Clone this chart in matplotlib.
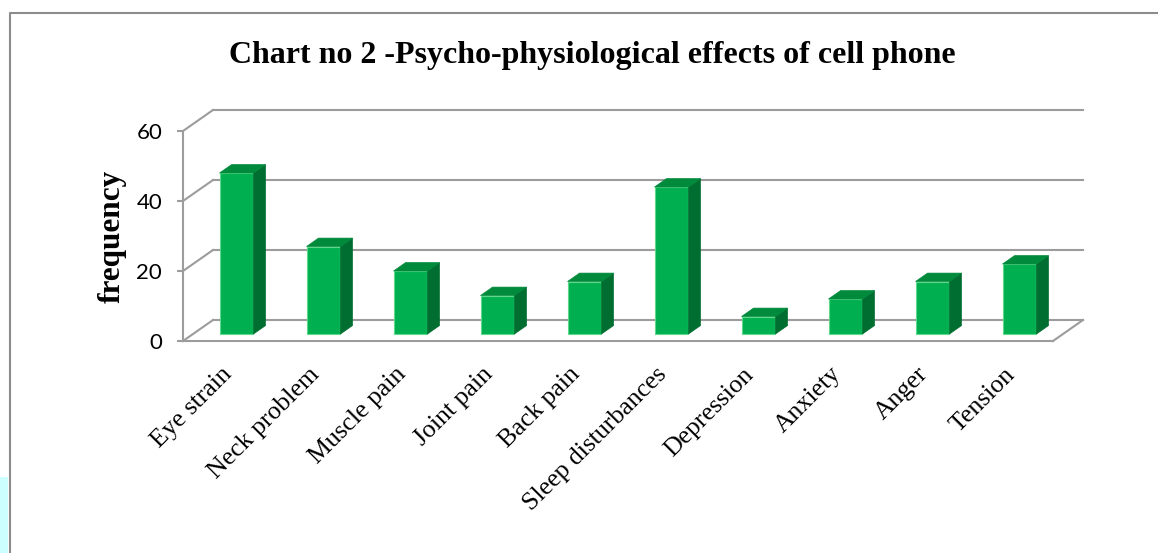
import matplotlib
matplotlib.use("Agg")
import matplotlib.pyplot as plt
from matplotlib.patches import Polygon, Rectangle
from matplotlib.lines import Line2D

categories = ["Eye strain", "Neck problem", "Muscle pain", "Joint pain", "Back pain",
              "Sleep disturbances", "Depression", "Anxiety", "Anger", "Tension"]
values = [46, 25, 18, 11, 15, 42, 5, 10, 15, 20]
yticks = [0, 20, 40, 60]
title = "Chart no 2 -Psycho-physiological effects of cell phone"
ylabel = "frequency"

W, H = 1158, 553
fig = plt.figure(figsize=(W / 100, H / 100), dpi=100)
fig.patch.set_facecolor("white")

# axes placement (pixels -> fractions)
left_px, right_px = 183, 183 + 10.4 * 87
bottom_px, top_px = 341, 341 - 67 * 3.5
ax = fig.add_axes([left_px / W, 1 - bottom_px / H, (right_px - left_px) / W, (bottom_px - top_px) / H])
ax.set_xlim(-0.5, 9.9)
ax.set_ylim(0, 67)
ax.set_facecolor("none")

grid_c = "#9C9C9C"
DX, DY = 0.345, 6.0          # depth of the 3D box in data units
n = len(categories)
x0, x1 = -0.5, n - 0.5

# walls / gridlines
for v in yticks:
    ax.plot([x0, x0 + DX], [v, v + DY], color=grid_c, lw=1.5, clip_on=False, zorder=1)
    ax.plot([x0 + DX, x1 + DX], [v + DY, v + DY], color=grid_c, lw=1.5, clip_on=False, zorder=1)
ax.plot([x0, x1], [0, 0], color=grid_c, lw=1.5, clip_on=False, zorder=1)
ax.plot([x1, x1 + DX], [0, DY], color=grid_c, lw=1.5, clip_on=False, zorder=1)

# bars (oblique 3D look)
front_c, side_c, top_c = "#00B050", "#006E30", "#008A3C"
bw = 0.39
shift_x, base = DX / 3, DY / 3
bdx, bdy = 0.138, 2.4
xs = [i + shift_x for i in range(n)]
ax.bar(xs, values, width=bw, bottom=base, color=front_c, edgecolor="#5ED98A", linewidth=0.8, zorder=3)
for xc, v in zip(xs, values):
    xl, xr = xc - bw / 2, xc + bw / 2
    yb, yt = base, base + v
    ax.add_patch(Polygon([(xr, yb), (xr + bdx, yb + bdy), (xr + bdx, yt + bdy), (xr, yt)],
                         closed=True, facecolor=side_c, edgecolor=side_c, lw=0.5, zorder=3))
    ax.add_patch(Polygon([(xl, yt), (xr, yt), (xr + bdx, yt + bdy), (xl + bdx, yt + bdy)],
                         closed=True, facecolor=top_c, edgecolor=top_c, lw=0.5, zorder=3))

# axes styling
for s in ["top", "right", "bottom"]:
    ax.spines[s].set_visible(False)
ax.spines["left"].set_color(grid_c)
ax.spines["left"].set_linewidth(1.5)
ax.spines["left"].set_bounds(0, 60)

ax.set_yticks(yticks)
ax.set_yticklabels([str(t) for t in yticks], fontfamily="Lato", fontsize=16)
ax.tick_params(axis="y", direction="out", length=4, width=1.5, color=grid_c, pad=11)

ax.set_xticks(xs)
ax.set_xticklabels(categories, rotation=45, ha="right", fontfamily="Liberation Serif", fontsize=18.5)
ax.tick_params(axis="x", length=0, pad=16)

ax.set_ylabel(ylabel, fontfamily="Liberation Serif", fontweight="bold", fontsize=22.5)
ax.yaxis.set_label_coords(-0.062, 0.4456)

fig.text(592 / W, 1 - 63 / H, title, ha="center", va="baseline",
         fontfamily="Liberation Serif", fontweight="bold", fontsize=23)

# outer frame and page artifact
fig.add_artist(Line2D([10 / W, 10 / W, 1.0], [0.0, 1 - 13 / H, 1 - 13 / H],
                      color="#8C8C8C", lw=1.5, transform=fig.transFigure))
fig.add_artist(Rectangle((0, 0), 8 / W, (H - 477) / H, transform=fig.transFigure,
                         facecolor="#CCFFFF", edgecolor="none"))

fig.savefig("out.png", dpi=100)
